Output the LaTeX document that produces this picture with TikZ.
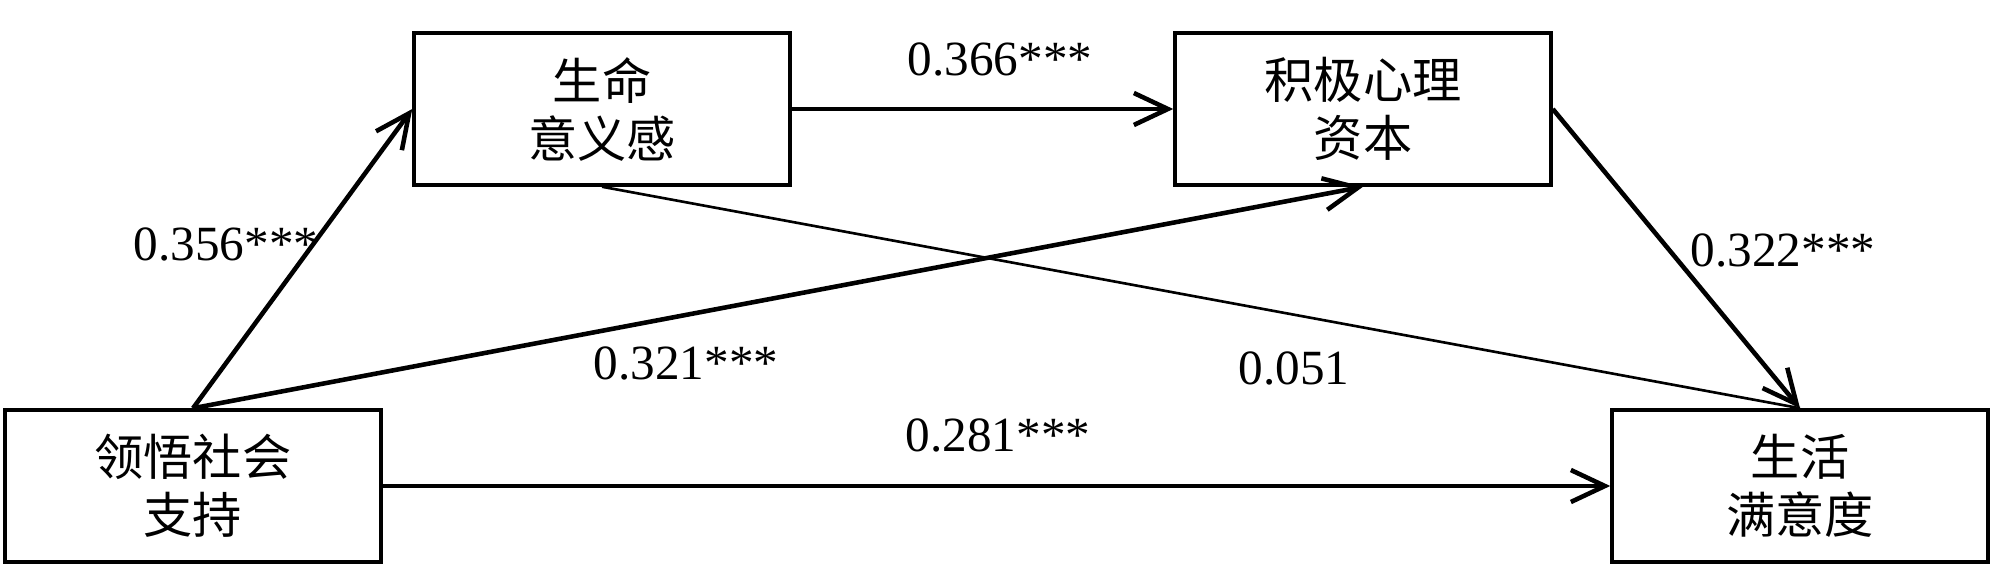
\documentclass[tikz,border=0pt]{standalone}
\usepackage{fontspec}
\setmainfont{Liberation Serif}
\newfontfamily\cjk{Noto Sans CJK SC}
\usetikzlibrary{arrows.meta}
\tikzset{
  varbox/.style={draw,line width=1pt,minimum width=3.76cm,minimum height=1.52cm,
    inner sep=0pt,align=center,font=\cjk\fontsize{14}{16.5}\selectfont},
  effarrow/.style={line width=1.3pt,-{Straight Barb[length=3.4mm,width=3.2mm]}},
  coef/.style={inner sep=0pt,font=\fontsize{14}{17}\selectfont}
}
\begin{document}
\begin{tikzpicture}
    \useasboundingbox (0,0) rectangle (20,5.77);
    % variables
    \node[varbox] (support) at (1.93,0.91) {领悟社会\\支持};
    \node[varbox] (meaning) at (6.02,4.68) {生命\\意义感};
    \node[varbox] (capital) at (13.63,4.68) {积极心理\\资本};
    \node[varbox] (satisf) at (18.00,0.91) {生活\\满意度};
    % paths
    \draw[effarrow] (support.north) -- (meaning.west);
    \draw[effarrow] (meaning.east) -- (capital.west);
    \draw[effarrow] (support.north) -- (capital.south);
    \draw[line width=0.75pt] (meaning.south) -- (satisf.north);
    \draw[effarrow] (capital.east) -- (satisf.north);
    \draw[effarrow] (support.east) -- (satisf.west);
    % coefficients
    \node[coef] (c1) at (2.26,3.33) {0.356***};
    \node[coef] (c2) at (10.00,5.18) {0.366***};
    \node[coef] (c3) at (6.86,2.14) {0.321***};
    \node[coef] (c4) at (12.94,2.09) {0.051};
    \node[coef] (c5) at (9.98,1.42) {0.281***};
    \node[coef] (c6) at (17.83,3.27) {0.322***};
\end{tikzpicture}
\end{document}
